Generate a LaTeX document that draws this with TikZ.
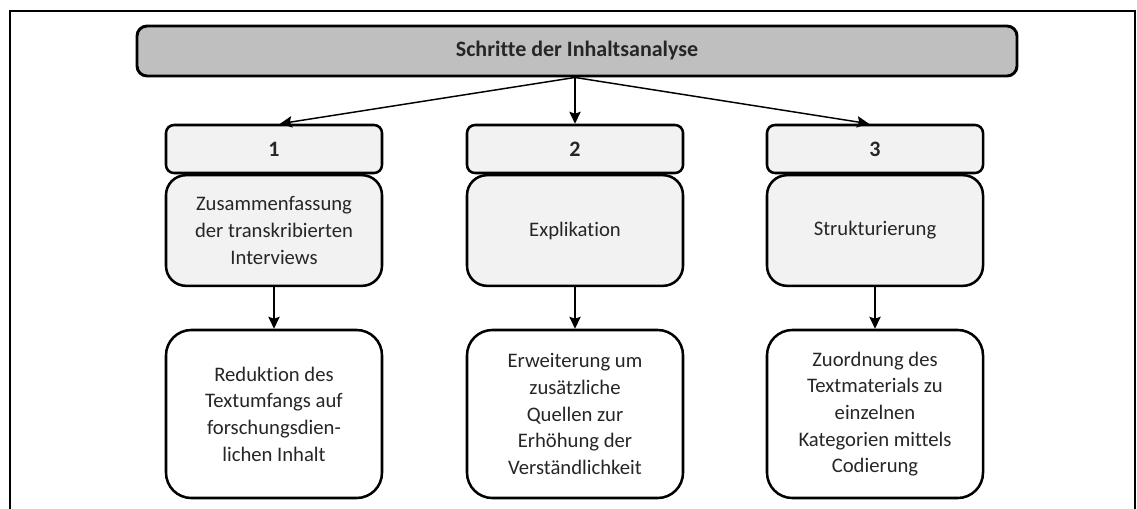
\documentclass[tikz,border=0pt]{standalone}
\usepackage{fontspec}
\setmainfont{Carlito}[Ligatures=NoCommon]
\usetikzlibrary{arrows.meta,calc}
\definecolor{titlegray}{HTML}{BFBFBF}
\definecolor{boxgray}{HTML}{F2F2F2}
\definecolor{ink}{HTML}{262626}
\begin{document}
\begin{tikzpicture}[x=0.75pt,y=-0.75pt,
  titlebox/.style={draw=black,line width=2.2pt,fill=titlegray,rounded corners=7.5pt,
    minimum width=660pt,minimum height=37.5pt,inner sep=0pt,
    font=\fontsize{16.5}{19}\selectfont\bfseries,text=ink},
  headbox/.style={draw=black,line width=1.9pt,fill=boxgray,rounded corners=6pt,
    minimum width=162pt,minimum height=36pt,inner sep=0pt,
    font=\fontsize{16.5}{19}\selectfont\bfseries,text=ink},
  bodybox/.style={draw=black,line width=1.9pt,fill=boxgray,rounded corners=15pt,
    minimum width=162pt,minimum height=83pt,inner sep=0pt,align=center,
    font=\fontsize{15.5}{20}\selectfont,text=ink},
  resultbox/.style={draw=black,line width=1.9pt,fill=white,rounded corners=19pt,
    minimum width=162pt,minimum height=126pt,inner sep=0pt,align=center,
    font=\fontsize{15.5}{20}\selectfont,text=ink},
  arrow/.style={line width=1.1pt,-{Stealth[length=9pt,width=8.5pt,inset=1.5pt]}}]
\useasboundingbox (0,0) rectangle (1137,508);
% outer frame, open at the bottom
\draw[line width=2.2pt] (10,520) -- (10,11) -- (1136,11);
\draw[line width=1.1pt] (1135,11) -- (1135,520);
% title
\node[titlebox] (top) at (577,51) {Schritte der Inhaltsanalyse};
% step headers
\node[headbox] (h1) at (274,149) {1};
\node[headbox] (h2) at (575,149) {2};
\node[headbox] (h3) at (875,149) {3};
% step descriptions
\node[bodybox] (b1) at (274,230.5) {Zusammenfassung\\der transkribierten\\Interviews};
\node[bodybox] (b2) at (575,230.5) {Explikation};
\node[bodybox] (b3) at (875,230.5) {Strukturierung};
% results
\node[resultbox] (r1) at (274,414) {Reduktion des\\Textumfangs auf\\forschungsdien-\\lichen Inhalt};
\node[resultbox] (r2) at (575,414) {Erweiterung um\\zusätzliche\\Quellen zur\\Erhöhung der\\Verständlichkeit};
\node[resultbox] (r3) at (875,414) {Zuordnung des\\Textmaterials zu\\einzelnen\\Kategorien mittels\\Codierung};
% connectors
\coordinate (src) at ($(top.south)+(-2,0)$);
\draw[arrow] (src) -- ($(h1.north)+(6,0)$);
\draw[arrow] (src) -- (h2.north);
\draw[arrow] (src) -- ($(h3.north)+(-6,0)$);
\draw[arrow] (b1.south) -- (r1.north);
\draw[arrow] (b2.south) -- (r2.north);
\draw[arrow] (b3.south) -- (r3.north);
\end{tikzpicture}
\end{document}
